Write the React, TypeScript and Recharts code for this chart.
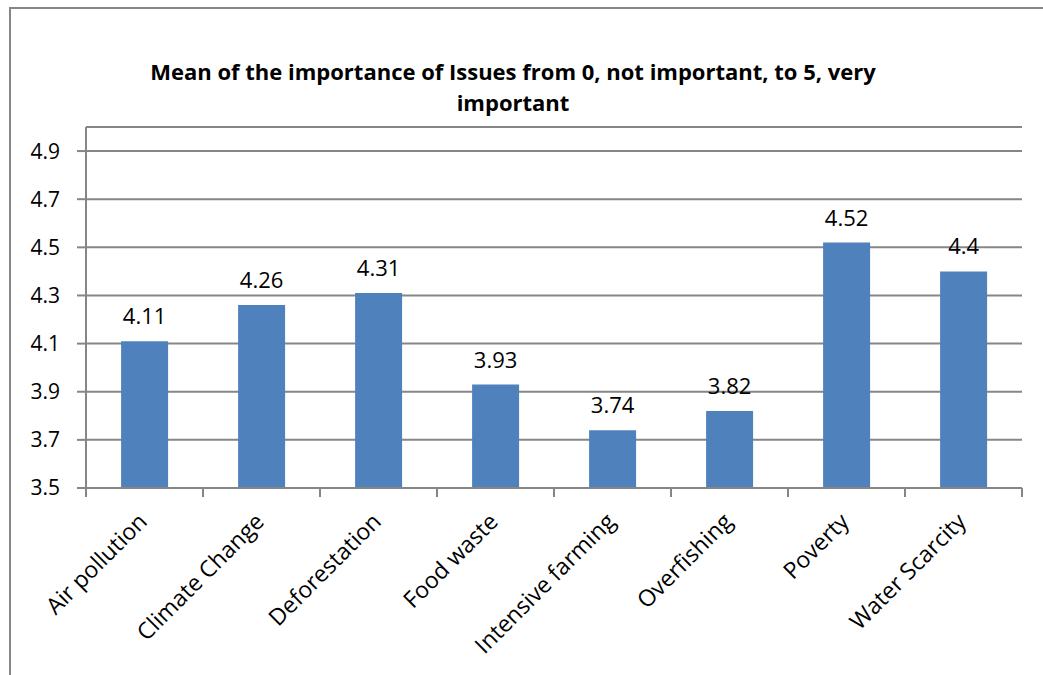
import { BarChart, Bar, XAxis, YAxis, CartesianGrid, LabelList } from 'recharts';

const issues = [
  'Air pollution',
  'Climate Change',
  'Deforestation',
  'Food waste',
  'Intensive farming',
  'Overfishing',
  'Poverty',
  'Water Scarcity',
];
const means = [4.11, 4.26, 4.31, 3.93, 3.74, 3.82, 4.52, 4.4];
const yTicks = [3.5, 3.7, 3.9, 4.1, 4.3, 4.5, 4.7, 4.9];

const data = issues.map((issue, i) => ({ issue, mean: means[i] }));

const W = 1043;
const H = 675;
const M = { top: 127, right: 21, left: 0, bottom: 0 };
const Y_AXIS_W = 86;
const X_AXIS_H = 187;
const BAND = (W - M.right - Y_AXIS_W) / issues.length;

const FONT = '"Open Sans", sans-serif';
const AXIS = '#868686';

function IssueTick({ x, y, index, payload }: any) {
  const half = BAND / 2;
  return (
    <g>
      <line x1={x - half} y1={y} x2={x - half} y2={y + 9} stroke={AXIS} strokeWidth={2} />
      {index === issues.length - 1 && (
        <line x1={x + half} y1={y} x2={x + half} y2={y + 9} stroke={AXIS} strokeWidth={2} />
      )}
      <text
        x={x + 4}
        y={y + 35}
        transform={`rotate(-45, ${x + 4}, ${y + 35})`}
        textAnchor="end"
        fontSize={23}
        fontFamily={FONT}
        fill="#000"
      >
        {payload.value}
      </text>
    </g>
  );
}

export default function App() {
  return (
    <div style={{ position: 'absolute', left: 0, top: 0, width: W, height: H, overflow: 'hidden', background: '#fff' }}>
      <div
        style={{
          position: 'absolute', left: 9, top: 7, width: 1040, height: 700,
          border: `2px solid ${AXIS}`, boxSizing: 'border-box',
        }}
      />
      <div
        style={{
          position: 'absolute', left: 0, top: 56, width: 1026, textAlign: 'center',
          fontFamily: FONT, fontWeight: 700, fontSize: 22, lineHeight: '31px', color: '#000',
        }}
      >
        Mean of the importance of Issues from 0, not important, to 5, very
        <br />
        important
      </div>
      <div style={{ position: 'absolute', left: 0, top: 0 }}>
        <BarChart width={W} height={H} data={data} margin={M} barCategoryGap="30%">
          <CartesianGrid vertical={false} stroke={AXIS} strokeWidth={2} />
          <XAxis
            dataKey="issue"
            interval={0}
            height={X_AXIS_H}
            axisLine={{ stroke: AXIS, strokeWidth: 2 }}
            tickLine={false}
            tickSize={0}
            tickMargin={0}
            tick={<IssueTick />}
          />
          <YAxis
            domain={[3.5, 5]}
            ticks={yTicks}
            allowDataOverflow
            width={Y_AXIS_W}
            axisLine={{ stroke: AXIS, strokeWidth: 2 }}
            tickLine={{ stroke: AXIS, strokeWidth: 2 }}
            tickSize={9}
            tickMargin={17}
            tick={{ fontSize: 21, fontFamily: FONT, fill: '#000' }}
          />
          <Bar dataKey="mean" fill="#4F81BD" isAnimationActive={false}>
            <LabelList
              dataKey="mean"
              position="top"
              offset={17}
              style={{ fontSize: 22, fontFamily: FONT, fill: '#000' }}
            />
          </Bar>
        </BarChart>
      </div>
    </div>
  );
}
